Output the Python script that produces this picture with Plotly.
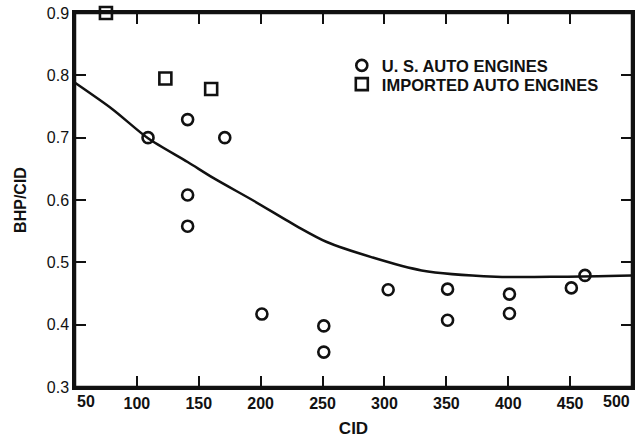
import plotly.graph_objects as go

# Data
us_cid = [109, 141, 171, 141, 141, 201, 251, 251, 303, 351, 351, 401, 401, 451, 462]
us_bhp = [0.700, 0.729, 0.700, 0.608, 0.558, 0.417, 0.398, 0.356, 0.456, 0.457, 0.407, 0.449, 0.418, 0.459, 0.479]

imp_cid = [75, 123, 160]
imp_bhp = [0.900, 0.795, 0.778]

curve_cid = [50, 80, 109, 141, 162, 195, 230, 253, 290, 330, 390, 444, 500]
curve_bhp = [0.788, 0.746, 0.699, 0.661, 0.635, 0.598, 0.557, 0.533, 0.508, 0.487, 0.477, 0.477, 0.479]

x_ticks = [50, 100, 150, 200, 250, 300, 350, 400, 450, 500]
x_tick_text = ["50", "100", "150", "200", "250", "300", "350", "400", "450", "500"]
y_ticks = [0.3, 0.4, 0.5, 0.6, 0.7, 0.8, 0.9]
y_tick_text = ["0.3", "0.4", "0.5", "0.6", "0.7", "0.8", "0.9"]

FONT = "Liberation Sans"
INK = "#111111"
TICKFONT_X = dict(family=FONT, size=16, color=INK, weight="bold")
TICKFONT_Y = dict(family=FONT, size=16, color=INK)

fig = go.Figure()

fig.add_trace(go.Scatter(
    x=curve_cid, y=curve_bhp, mode="lines",
    line=dict(color=INK, width=2.5, shape="spline", smoothing=0.8),
    showlegend=False, hoverinfo="skip",
))
fig.add_trace(go.Scatter(
    x=us_cid, y=us_bhp, mode="markers", name="U. S. AUTO ENGINES",
    marker=dict(symbol="circle-open", size=11, color=INK, line=dict(width=2.6, color=INK)),
    legend="legend",
))
fig.add_trace(go.Scatter(
    x=imp_cid, y=imp_bhp, mode="markers", name="IMPORTED AUTO ENGINES",
    marker=dict(symbol="square-open", size=12, color=INK, line=dict(width=2.6, color=INK)),
    legend="legend2", cliponaxis=False,
))

axis_common = dict(
    showgrid=False, zeroline=False,
    showline=True, linecolor=INK, linewidth=2.5, mirror="ticks",
    ticks="inside", ticklen=11, tickwidth=2, tickcolor=INK,
    automargin=False,
)

fig.update_xaxes(
    range=[x_ticks[0], x_ticks[-1]], tickvals=x_ticks,
    ticktext=[""] + x_tick_text[1:-1] + [""], tickfont=TICKFONT_X,
    title=dict(text="CID", font=dict(family=FONT, size=17, color=INK, weight="bold"), standoff=12),
    **axis_common,
)
fig.update_yaxes(
    range=[y_ticks[0], y_ticks[-1]], tickvals=y_ticks, ticktext=y_tick_text, tickfont=TICKFONT_Y,
    title=dict(text="BHP/CID", font=dict(family=FONT, size=16, color=INK, weight="bold"), standoff=17),
    **axis_common,
)

for val, txt, anchor in [(x_ticks[0], x_tick_text[0], "left"), (x_ticks[-1], x_tick_text[-1], "right")]:
    fig.add_annotation(
        x=val, xref="x", y=0, yref="paper", text=txt, showarrow=False,
        xanchor=anchor, yanchor="middle", yshift=-14,
        font=TICKFONT_X,
    )

legend_font = dict(family=FONT, size=16.5, color=INK, weight="bold")
fig.update_layout(
    template="none",
    width=643, height=439,
    margin=dict(l=75, r=11, t=13, b=52),
    paper_bgcolor="white", plot_bgcolor="white",
    font=dict(family=FONT, color=INK),
    shapes=[dict(type="rect", xref="paper", yref="paper", x0=0, x1=1, y0=0, y1=1,
                 line=dict(color=INK, width=2.5), layer="above")],
    legend=dict(x=0.479, y=0.906, xanchor="left", yanchor="top",
                bgcolor="rgba(0,0,0,0)", borderwidth=0, font=legend_font),
    legend2=dict(x=0.479, y=0.856, xanchor="left", yanchor="top",
                 bgcolor="rgba(0,0,0,0)", borderwidth=0, font=legend_font),
)

fig.write_html(
    "out.html",
    config={"displayModeBar": False},
    post_script="document.body.style.margin='0';document.body.style.overflow='hidden';",
)
